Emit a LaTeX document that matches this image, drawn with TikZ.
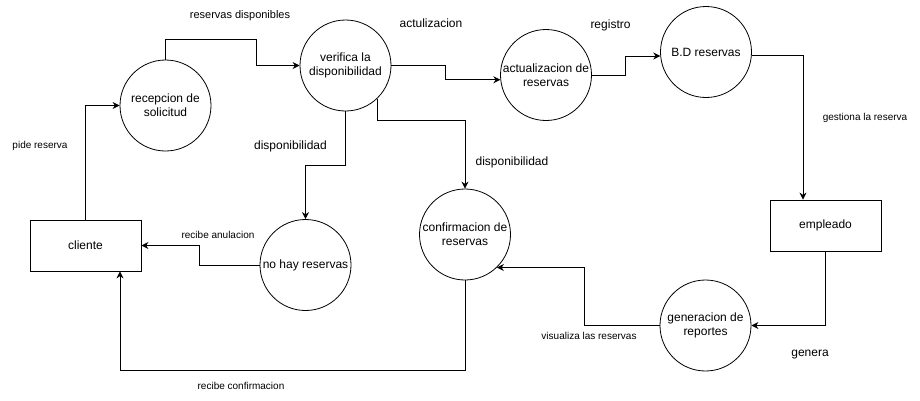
\documentclass[tikz,border=0pt]{standalone}
\usepackage{fontspec}
\setmainfont{Liberation Sans}
\usetikzlibrary{arrows.meta}

\begin{document}
\begin{tikzpicture}[x=1pt, y=-1pt,
    proceso/.style={draw, circle, line width=0.8pt, minimum size=91pt, inner sep=0pt, align=center, font=\fontsize{12}{14}\selectfont},
    entidad/.style={draw, rectangle, line width=0.8pt, minimum width=111pt, minimum height=51pt, font=\fontsize{12}{14}\selectfont},
    flujo/.style={-{Stealth[length=7pt,width=7pt]}, line width=0.9pt},
    etiq/.style={font=\fontsize{10}{12}\selectfont},
    etiqg/.style={font=\fontsize{12}{14}\selectfont}]
            \useasboundingbox (0,0) rectangle (920,400);

            % Entities and processes
            \node[entidad] (cliente) at (85.5,245.5) {cliente};
            \node[proceso] (recep) at (165.5,105.5) {recepcion de\\solicitud};
            \node[proceso] (verif) at (345.5,65.5) {verifica la\\disponibilidad};
            \node[proceso] (actual) at (546,75) {actualizacion de\\reservas};
            \node[proceso] (bd) at (706,52) {B.D reservas};
            \node[entidad] (empl) at (825.5,225.5) {empleado};
            \node[proceso] (nohay) at (305.5,265) {no hay reservas};
            \node[proceso] (confirm) at (465,234.5) {confirmacion de\\reservas};
            \node[proceso] (gen) at (705.5,325.5) {generacion de\\reportes};

            % Data flows
            \draw[flujo] (cliente.north) |- (recep.west);
            \draw[flujo] (recep.north) -- ++(0,-20) -- ++(90.5,0) |- (verif.west);
            \draw[flujo] (verif.east) -- ++(54,0) |- (actual.186);
            \draw[flujo] (actual.east) -- ++(33.5,0) |- (bd.185);
            \draw[flujo] (bd.356) -| ([xshift=-22.5pt]empl.north);
            \draw[flujo] (verif.south) -- ++(0,54) -| (nohay.north);
            \draw[flujo] (verif.314) -- ++(0,22) -| (confirm.north);
            \draw[flujo] (nohay.west) -- ++(-60,0) |- (cliente.east);
            \draw[flujo] (confirm.south) -- ++(0,90) -| ([xshift=34.5pt]cliente.south);
            \draw[flujo] (empl.south) |- (gen.east);
            \draw[flujo] (gen.west) -- ++(-75,0) |- (confirm.314);

            % Flow labels
            \node[font=\fontsize{11}{13}\selectfont] (lresdisp) at (240,16) {reservas disponibles};
            \node[etiqg] (lactu) at (431,23) {actulizacion};
            \node[etiqg] (lreg) at (610.5,25) {registro};
            \node[etiq] (lgest) at (865,118) {gestiona la reserva};
            \node[etiqg] (ldisp1) at (290.5,146) {disponibilidad};
            \node[etiqg] (ldisp2) at (512,162) {disponibilidad};
            \node[etiq] (lpide) at (40,146) {pide reserva};
            \node[etiq] (lanul) at (218,235) {recibe anulacion};
            \node[etiq] (lconf) at (241,386) {recibe confirmacion};
            \node[etiq] (lvis) at (589,336) {visualiza las reservas};
            \node[etiqg] (lgen) at (810,355) {genera};
\end{tikzpicture}
\end{document}
